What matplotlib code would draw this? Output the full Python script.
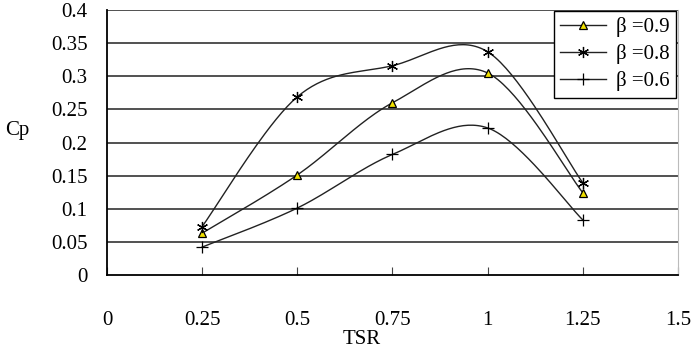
import numpy as np
import matplotlib
matplotlib.use("Agg")
from matplotlib import pyplot as plt

tsr = [0.25, 0.5, 0.75, 1.0, 1.25]
cp_09 = [0.063, 0.151, 0.260, 0.305, 0.124]
cp_08 = [0.073, 0.269, 0.316, 0.337, 0.139]
cp_06 = [0.042, 0.101, 0.182, 0.222, 0.083]
labels = ["β =0.9", "β =0.8", "β =0.6"]
xticks = [0, 0.25, 0.5, 0.75, 1, 1.25, 1.5]
xtick_labels = ["0", "0.25", "0.5", "0.75", "1", "1.25", "1.5"]
yticks = [0, 0.05, 0.1, 0.15, 0.2, 0.25, 0.3, 0.35, 0.4]
ytick_labels = ["0", "0.05", "0.1", "0.15", "0.2", "0.25", "0.3", "0.35", "0.4"]


def smooth(xs, ys, n=40):
        # catmull-rom through the points, like the spreadsheet "smoothed line"
        x = np.asarray(xs, float)
        y = np.asarray(ys, float)
        px = np.concatenate(([x[0]], x, [x[-1]]))
        py = np.concatenate(([y[0]], y, [y[-1]]))
        out_x, out_y = [], []
        t = np.linspace(0, 1, n)
        for i in range(1, len(px) - 2):
                x0, x1, x2, x3 = px[i - 1], px[i], px[i + 1], px[i + 2]
                y0, y1, y2, y3 = py[i - 1], py[i], py[i + 1], py[i + 2]
                c1x, c1y = x1 + (x2 - x0) / 6, y1 + (y2 - y0) / 6
                c2x, c2y = x2 - (x3 - x1) / 6, y2 - (y3 - y1) / 6
                bx = (1 - t) ** 3 * x1 + 3 * (1 - t) ** 2 * t * c1x + 3 * (1 - t) * t ** 2 * c2x + t ** 3 * x2
                by = (1 - t) ** 3 * y1 + 3 * (1 - t) ** 2 * t * c1y + 3 * (1 - t) * t ** 2 * c2y + t ** 3 * y2
                out_x.extend(bx)
                out_y.extend(by)
        return out_x, out_y


plt.rcParams['font.family'] = ['Liberation Serif', 'DejaVu Serif']

fig = plt.figure(figsize=(6.99, 3.48), dpi=100)
ax = fig.add_axes([0.153, 0.21, 0.817, 0.761])

for yv in yticks[1:]:
        ax.axhline(yv, color="#222222", lw=1.1, zorder=1)

series = [(cp_09, "^", "#f0e000", 6), (cp_08, (6, 2, 0), "black", 8), (cp_06, "+", "black", 8)]
for (vals, mk, fc, ms), lab in zip(series, labels):
        sx, sy = smooth(tsr, vals)
        ax.plot(sx, sy, color="#222222", lw=1.0, zorder=2)
        ax.plot(tsr, vals, linestyle="none", marker=mk, markersize=ms,
                markerfacecolor=fc, markeredgecolor="black", markeredgewidth=0.9, zorder=3)
        ax.plot([], [], color="#222222", lw=1.0, marker=mk, markersize=ms,
                markerfacecolor=fc, markeredgecolor="black", markeredgewidth=0.9, label=lab)

ax.set_xlim(0, 1.5)
ax.set_ylim(0, 0.4)
ax.set_xticks(xticks)
ax.set_xticklabels(xtick_labels, fontsize=15)
ax.set_yticks(yticks)
ax.set_yticklabels(ytick_labels, fontsize=15)
ax.tick_params(axis="x", direction="in", length=6, pad=26, color="#444444")
ax.tick_params(axis="y", length=0, pad=14)

ax.spines["left"].set_color("black")
ax.spines["left"].set_linewidth(1.3)
ax.spines["bottom"].set_color("black")
ax.spines["bottom"].set_linewidth(1.3)
ax.spines["top"].set_visible(False)
ax.spines["right"].set_color("#bbbbbb")
ax.spines["right"].set_linewidth(0.8)

leg = ax.legend(loc="upper right", bbox_to_anchor=(0.997, 0.998), fontsize=15, frameon=True,
                fancybox=False, edgecolor="black", framealpha=1, handlelength=2.2,
                handletextpad=0.5, labelspacing=0.35, borderpad=0.3, borderaxespad=0)
leg.get_frame().set_linewidth(1.0)
leg.set_zorder(5)

fig.text(17 / 699, 1 - 130 / 348, "Cp", fontsize=15, ha="center", va="center")
fig.text(362 / 699, 1 - 340 / 348, "TSR", fontsize=15, ha="center", va="center")

fig.savefig("out.png", dpi=100)
